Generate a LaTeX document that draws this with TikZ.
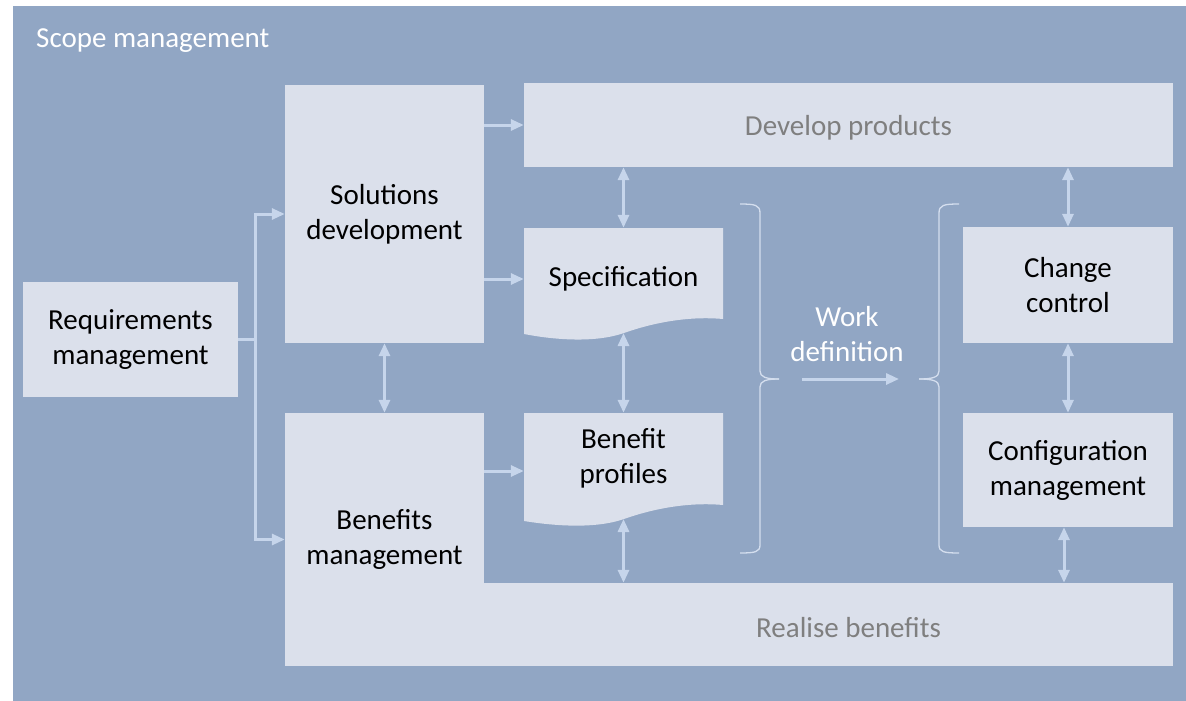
\documentclass[tikz,border=0pt]{standalone}
\usepackage{fontspec}
\setmainfont{Carlito}
\usetikzlibrary{arrows.meta,calc}
\definecolor{bgblue}{RGB}{145,166,196}
\definecolor{boxfill}{RGB}{219,224,235}
\definecolor{arrowc}{RGB}{198,213,235}
\definecolor{bracec}{RGB}{212,222,238}
\definecolor{graytxt}{RGB}{127,127,127}
\tikzset{
  box/.style={fill=boxfill, draw=none, inner sep=0pt, align=center, text=black},
  txt/.style={inner sep=0pt, align=center},
  conn/.style={draw=arrowc, line width=3pt},
  arrow/.style={conn, -{Triangle[width=11pt,length=13pt]}},
  dbl/.style={conn, {Triangle[width=11pt,length=13pt]}-{Triangle[width=11pt,length=13pt]}},
  brace/.style={draw=bracec, line width=1.3pt},
}
\begin{document}
\begin{tikzpicture}[x=1pt,y=-1pt, font=\fontsize{29pt}{35pt}\selectfont]
\useasboundingbox (0,0) rectangle (1186,701);
\fill[bgblue] (13,6) rectangle (1186,701);
\node[txt, text=white, anchor=base west] (scope) at (36,48) {Scope management};

% boxes
\node[box, minimum width=888pt, minimum height=83pt] (real) at (729,624.5) {};
\node[txt, text=graytxt] (realtxt) at (848.5,628) {Realise benefits};
\node[box, minimum width=215pt, minimum height=115pt] (req) at (130.5,339.5) {Requirements\\management};
\node[box, minimum width=199pt, minimum height=258pt] (sol) at (384.5,214) {Solutions\\development};
\node[box, minimum width=199pt, minimum height=253pt] (bm) at (384.5,539.5) {Benefits\\management};
\node[box, minimum width=649pt, minimum height=84pt] (dev) at (848.5,125) {};
\node[txt, text=graytxt] (devtxt) at (848.5,128) {Develop products};
\node[box, minimum width=210pt, minimum height=116pt] (cc) at (1068,285) {Change\\control};
\node[box, minimum width=210pt, minimum height=114pt] (cm) at (1068,470) {Configuration\\management};

% document shapes
\fill[boxfill] (524,228) -- (723,228) -- (723,319) .. controls (690,316) and (655,322) .. (624,333) .. controls (595,343) and (555,340) .. (524,334) -- cycle;
\fill[boxfill] (524,413) -- (723,413) -- (723,505) .. controls (690,502) and (655,508) .. (624,519) .. controls (595,529) and (555,526) .. (524,521) -- cycle;
\node[txt, minimum width=199pt, minimum height=102pt] (spec) at (623.5,279) {Specification};
\node[txt, minimum width=199pt, minimum height=90pt] (bp) at (623.5,458) {Benefit\\profiles};
\coordinate (specb) at (623.5,333);
\coordinate (bpb) at (623.5,519);

% braces
\coordinate (lbr) at (779,379);
\coordinate (rbr) at (919,379);
\draw[brace] (740,204) .. controls (755,204) and (760,205) .. (760,213) -- (760,371) .. controls (760,377) and (766,379) .. (lbr);
\draw[brace] (lbr) .. controls (766,379) and (760,381) .. (760,387) -- (760,545) .. controls (760,552) and (755,553) .. (740,553);
\draw[brace] (959,204) .. controls (944,204) and (939,205) .. (939,213) -- (939,371) .. controls (939,377) and (933,379) .. (rbr);
\draw[brace] (rbr) .. controls (933,379) and (939,381) .. (939,387) -- (939,545) .. controls (939,552) and (944,553) .. (959,553);
\node[txt, text=white] (work) at (847,334) {Work\\definition};
\draw[arrow, shorten <=23pt, shorten >=20pt] (lbr) -- (rbr);

% connectors
\coordinate (j) at ($(req.east)+(17pt,0)$);
\draw[conn] (req.east) -- (j);
\draw[arrow] (j) |- (sol.west);
\draw[arrow] (j) |- (bm.west);
\draw[arrow] (sol.east |- dev.west) -- (dev.west);
\draw[arrow] (sol.east |- spec.west) -- (spec.west);
\draw[arrow] ([yshift=-13pt]bp.west -| bm.east) -- ([yshift=-13pt]bp.west);
\draw[dbl] (sol.south) -- (bm.north);
\draw[dbl] (dev.south -| spec.north) -- (spec.north);
\draw[dbl] (specb) -- (bp.north);
\draw[dbl] (bpb) -- (bpb |- real.north);
\draw[dbl] (dev.south -| cc.north) -- (cc.north);
\draw[dbl] (cc.south) -- (cm.north);
\draw[dbl] ([xshift=-4pt]cm.south) -- ([xshift=-4pt]cm.south |- real.north);
\end{tikzpicture}
\end{document}
